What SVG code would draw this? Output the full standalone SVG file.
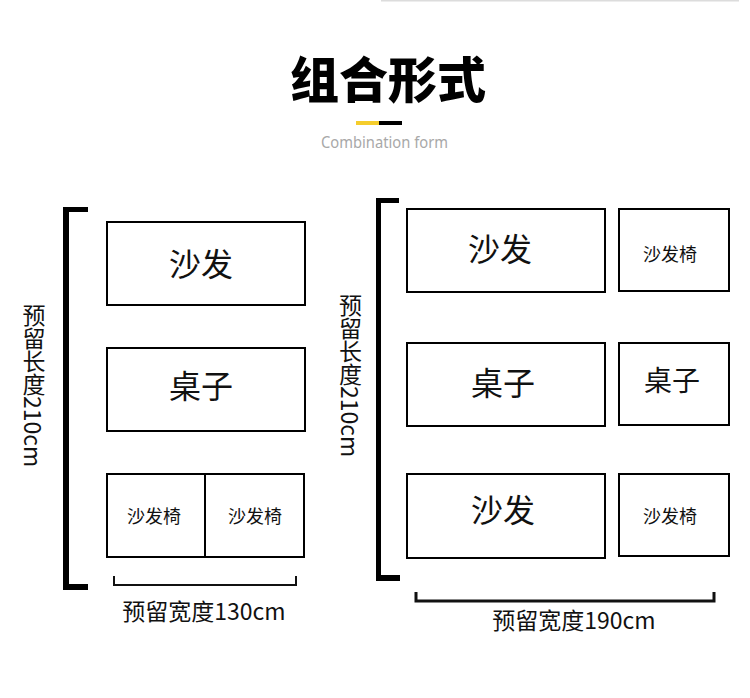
<svg xmlns="http://www.w3.org/2000/svg" width="750" height="698" viewBox="0 0 750 698">
<style>
.box{fill:#fff;stroke:#000;stroke-width:2}
.cjk{font-family:"Noto Sans CJK SC","Noto Sans",sans-serif;fill:#111;text-anchor:middle}
.big{font-size:32px}
.mid{font-size:28px}
.sm{font-size:18px}
.lbl{font-size:23px}
.vert{writing-mode:vertical-rl;text-anchor:start}
.brk{fill:#000}
.dim{fill:none;stroke:#111;stroke-width:2}
</style>
<rect width="750" height="698" fill="#fff"/>
<line x1="381" y1="0.5" x2="739" y2="0.5" stroke="#dcdcdc" stroke-width="2"/>
<g id="title">
<text x="388" y="98" class="cjk" style="font-size:49px;font-weight:900;fill:#000">组合形式</text>
<rect x="356" y="121" width="23" height="4" fill="#f5cd2c"/>
<rect x="379" y="121" width="23" height="4" fill="#000"/>
<text x="384.5" y="147.5" style="font-family:'Noto Sans',sans-serif;font-size:16px;fill:#a8a8a8;text-anchor:middle" textLength="127" lengthAdjust="spacingAndGlyphs">Combination form</text>
</g>
<g id="connectors">
<path class="brk" d="M63 207H88V212H69V584H88V590H63Z"/>
<path class="dim" d="M114 576V585H296V576"/>
<path class="brk" d="M376 198H399V203H381V575H400V581H376Z"/>
<path class="dim" d="M416 592V601H714V592" style="stroke-width:3"/>
</g>
<g id="left-length">
<text x="34" y="304" class="cjk lbl vert">预留长度210cm</text>
</g>
<g id="left-width">
<text x="204" y="620" class="cjk lbl">预留宽度130cm</text>
</g>
<g id="left-sofa">
<rect class="box" x="107" y="222" width="198" height="83"/>
<text x="201" y="275.5" class="cjk big">沙发</text>
</g>
<g id="left-table">
<rect class="box" x="107" y="348" width="198" height="83"/>
<text x="201" y="398" class="cjk big">桌子</text>
</g>
<g id="left-chair-1">
<rect class="box" x="107" y="474" width="98" height="83"/>
<text x="154" y="523" class="cjk sm">沙发椅</text>
</g>
<g id="left-chair-2">
<rect class="box" x="205" y="474" width="99" height="83"/>
<text x="255" y="523" class="cjk sm">沙发椅</text>
</g>
<g id="right-length">
<text x="350.5" y="294" class="cjk lbl vert">预留长度210cm</text>
</g>
<g id="right-width">
<text x="574" y="628.5" class="cjk lbl">预留宽度190cm</text>
</g>
<g id="right-sofa-1">
<rect class="box" x="407" y="209" width="198" height="83"/>
<text x="500" y="261" class="cjk big">沙发</text>
</g>
<g id="right-chair-1">
<rect class="box" x="619" y="209" width="110" height="82"/>
<text x="670" y="261" class="cjk sm">沙发椅</text>
</g>
<g id="right-table-1">
<rect class="box" x="407" y="343" width="198" height="83"/>
<text x="503" y="394.5" class="cjk big">桌子</text>
</g>
<g id="right-table-2">
<rect class="box" x="619" y="343" width="110" height="82"/>
<text x="672" y="391" class="cjk mid">桌子</text>
</g>
<g id="right-sofa-2">
<rect class="box" x="407" y="474" width="198" height="84"/>
<text x="503" y="522" class="cjk big">沙发</text>
</g>
<g id="right-chair-2">
<rect class="box" x="619" y="474" width="110" height="82"/>
<text x="670" y="523" class="cjk sm">沙发椅</text>
</g>
</svg>
